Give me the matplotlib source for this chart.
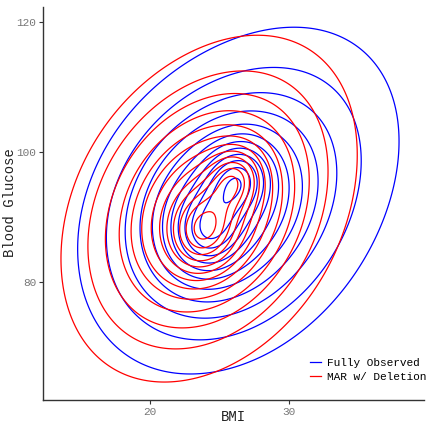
import numpy as np
import matplotlib
matplotlib.use("Agg")
import matplotlib.pyplot as plt
from matplotlib.lines import Line2D

# Density model: mixture components
# (BMI centre, glucose centre, BMI spread, glucose spread, correlation, peak height)
groups = ["Fully Observed", "MAR w/ Deletion"]
colors = ["blue", "red"]

full_mx = [26.8, 25.0, 24.2, 26.3]
full_my = [93.0, 91.0, 87.8, 96.0]
full_sx = [6.6, 4.2, 1.6, 1.5]
full_sy = [15.5, 9.5, 4.0, 3.6]
full_rho = [0.35, 0.15, 0.1, 0.1]
full_h = [1.0, 1.2, 0.8, 0.95]

mar_mx = [24.4, 23.9, 23.9, 26.1]
mar_my = [91.5, 90.5, 87.6, 95.8]
mar_sx = [5.9, 4.0, 1.6, 1.2]
mar_sy = [15.0, 9.5, 4.0, 3.0]
mar_rho = [0.35, 0.15, 0.1, 0.1]
mar_h = [1.1, 1.35, 1.0, 0.9]

x_ticks = [20, 30]
y_ticks = [80, 100, 120]


def mixture(X, Y, mx, my, sx, sy, rho, h):
    Z = np.zeros_like(X)
    for a, b, c, d, r, hh in zip(mx, my, sx, sy, rho, h):
        u = (X - a) / c
        v = (Y - b) / d
        q = (u * u - 2 * r * u * v + v * v) / (1 - r * r)
        Z += hh * np.exp(-0.5 * q)
    return Z


plt.rcParams['font.family'] = ['Liberation Mono', 'DejaVu Sans Mono']
fig = plt.figure(figsize=(4.28, 4.24), dpi=100)
ax = fig.add_axes([0.1005, 0.0566, 0.8895, 0.9269])

xs = np.linspace(8, 44, 360)
ys = np.linspace(50, 135, 360)
X, Y = np.meshgrid(xs, ys)
Zf = mixture(X, Y, full_mx, full_my, full_sx, full_sy, full_rho, full_h)
Zm = mixture(X, Y, mar_mx, mar_my, mar_sx, mar_sy, mar_rho, mar_h)
step = 0.25
levels = np.arange(step, max(Zf.max(), Zm.max()), step)
ax.contour(X, Y, Zf, levels=levels, colors=colors[0], linewidths=0.9)
ax.contour(X, Y, Zm, levels=levels, colors=colors[1], linewidths=0.9)

ax.set_xlim(12.3, 39.7)
ax.set_ylim(61.8, 122.3)
ax.set_xticks(x_ticks)
ax.set_yticks(y_ticks)
for s in ['top', 'right']:
    ax.spines[s].set_visible(False)
for s in ['left', 'bottom']:
    ax.spines[s].set_color('#333333')
    ax.spines[s].set_linewidth(1.0)
ax.tick_params(colors='#333333', labelcolor='#777777', labelsize=8, length=3,
               width=0.8, pad=2)
fig.text(233 / 428, 1 - 417 / 424, "BMI", fontsize=10, color='#222222',
         ha='center', va='center')
fig.text(10 / 428, 1 - 203 / 424, "Blood Glucose", fontsize=10, color='#222222',
         ha='center', va='center', rotation=90)

handles = [Line2D([0], [0], color=c, lw=0.9) for c in colors]
ax.legend(handles, groups, loc='lower right', frameon=False, fontsize=8,
          handlelength=1.0, handletextpad=0.6, labelspacing=0.4,
          bbox_to_anchor=(1.034, 0.02))
fig.savefig("out.png", dpi=100)
